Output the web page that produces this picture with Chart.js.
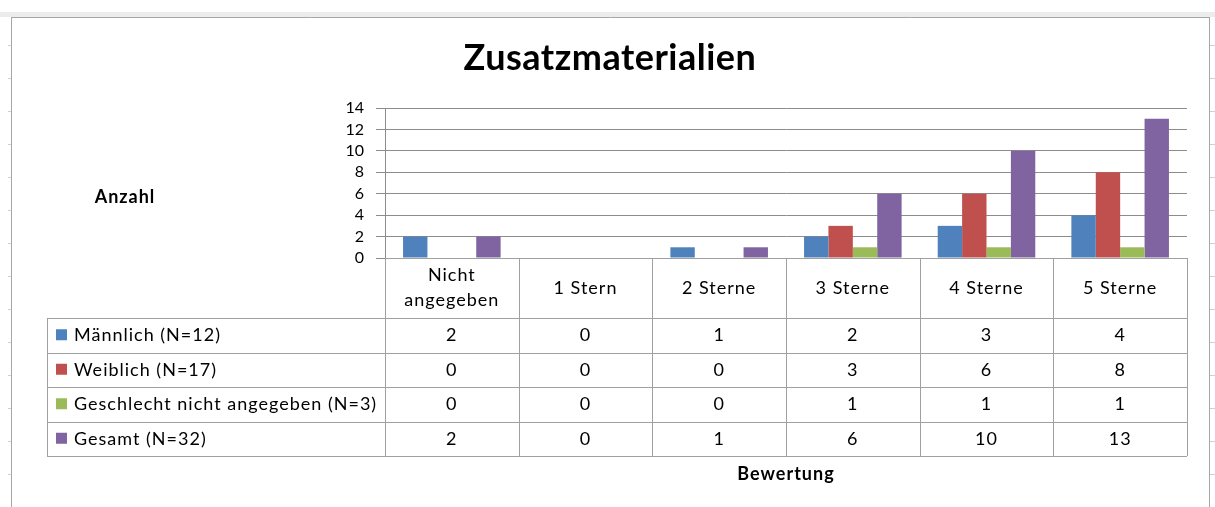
<!DOCTYPE html>
<html>
<head>
<meta charset="utf-8">
<script src="https://cdn.jsdelivr.net/npm/chart.js@4"></script>
<style>
  html, body { margin: 0; padding: 0; background: #fff; }
  #wrap { position: absolute; left: 0; top: 0; width: 1215px; height: 507px; }
</style>
</head>
<body>
<div id="wrap"><canvas id="chart" width="1215" height="507"></canvas></div>
<script>
// chart data
const categories = [['Nicht', 'angegeben'], '1 Stern', '2 Sterne', '3 Sterne', '4 Sterne', '5 Sterne'];
const seriesNames = ['Männlich (N=12)', 'Weiblich (N=17)', 'Geschlecht nicht angegeben (N=3)', 'Gesamt (N=32)'];
const maennlich = [2, 0, 1, 2, 3, 4];
const weiblich = [0, 0, 0, 3, 6, 8];
const keineAngabe = [0, 0, 0, 1, 1, 1];
const gesamt = [2, 0, 1, 6, 10, 13];
const yTicks = [0, 2, 4, 6, 8, 10, 12, 14];
const colors = ['#4F81BD', '#C0504D', '#9BBB59', '#8064A2'];

const FONT = 'Lato, "Open Sans", sans-serif';

// draws title, the data table under the plot, axis titles and frame
const tablePlugin = {
    id: 'dataTable',
    beforeDraw(chart) {
        const ctx = chart.ctx;
        ctx.save();
        // worksheet frame
        ctx.fillStyle = '#ececec';
        ctx.fillRect(0, 12, 1215, 5);
        ctx.strokeStyle = '#a6a6a6';
        ctx.lineWidth = 1;
        ctx.beginPath();
        ctx.moveTo(11.5, 17); ctx.lineTo(11.5, 507);
        ctx.moveTo(1209.5, 17); ctx.lineTo(1209.5, 507);
        ctx.moveTo(11, 17.5); ctx.lineTo(1210, 17.5);
        ctx.stroke();
        ctx.strokeStyle = '#d0d0d0';
        ctx.beginPath();
        for (let y = 45; y < 507; y += 33) {
            ctx.moveTo(8, y + 0.5); ctx.lineTo(11, y + 0.5);
            ctx.moveTo(1210, y + 0.5); ctx.lineTo(1215, y + 0.5);
        }
        ctx.stroke();

        // chart title
        ctx.fillStyle = '#000';
        ctx.font = 'bold 36px ' + FONT;
        ctx.letterSpacing = '0.5px';
        ctx.textAlign = 'center';
        ctx.textBaseline = 'alphabetic';
        ctx.fillText('Zusatzmaterialien', 610, 70);
        ctx.restore();
    },
    afterDraw(chart) {
        const {ctx, chartArea, scales: {x}} = chart;
        const colW = x.width / categories.length;
        const top = chartArea.bottom;
        const headH = 60;
        const rowH = 34.5;
        const tableLeft = 47;
        const rows = [maennlich, weiblich, keineAngabe, gesamt];
        const bottom = top + headH + rowH * rows.length;

        ctx.save();
        ctx.strokeStyle = '#a0a0a0';
        ctx.lineWidth = 1;
        ctx.beginPath();
        // vertical lines of columns
        for (let i = 0; i <= categories.length; i++) {
            const px = Math.round(chartArea.left + i * colW) + 0.5;
            ctx.moveTo(px, top);
            ctx.lineTo(px, bottom);
        }
        ctx.moveTo(tableLeft + 0.5, top + headH);
        ctx.lineTo(tableLeft + 0.5, bottom);
        // horizontal lines
        ctx.moveTo(chartArea.left, Math.round(top) + 0.5);
        ctx.lineTo(chartArea.right, Math.round(top) + 0.5);
        for (let r = 0; r <= rows.length; r++) {
            const py = Math.round(top + headH + r * rowH) + 0.5;
            ctx.moveTo(tableLeft, py);
            ctx.lineTo(chartArea.right, py);
        }
        ctx.stroke();

        ctx.fillStyle = '#000';
        ctx.font = '18px ' + FONT;
        ctx.letterSpacing = '1px';
        ctx.textAlign = 'center';
        ctx.textBaseline = 'middle';
        // header labels
        categories.forEach((c, i) => {
            const cx = x.getPixelForValue(i);
            const lines = Array.isArray(c) ? c : [c];
            lines.forEach((l, j) => {
                const cy = top + headH / 2 + (j - (lines.length - 1) / 2) * 25;
                ctx.fillText(l, cx, cy);
            });
        });
        // rows
        rows.forEach((vals, r) => {
            const cy = top + headH + r * rowH + rowH / 2;
            ctx.textAlign = 'center';
            vals.forEach((v, i) => {
                ctx.fillText(String(v), x.getPixelForValue(i), cy);
            });
            ctx.fillStyle = colors[r];
            ctx.fillRect(tableLeft + 9, cy - 6, 11, 11);
            ctx.fillStyle = '#000';
            ctx.textAlign = 'left';
            ctx.fillText(seriesNames[r], tableLeft + 27, cy);
        });

        // axis titles
        ctx.font = 'bold 18px ' + FONT;
        ctx.textAlign = 'center';
        ctx.fillText('Anzahl', 125, 197);
        ctx.fillText('Bewertung', (chartArea.left + chartArea.right) / 2, 474);
        ctx.restore();
    }
};

new Chart(document.getElementById('chart'), {
    type: 'bar',
    data: {
        labels: categories,
        datasets: [{
            label: seriesNames[0],
            data: maennlich,
            backgroundColor: colors[0]
        }, {
            label: seriesNames[1],
            data: weiblich,
            backgroundColor: colors[1]
        }, {
            label: seriesNames[2],
            data: keineAngabe,
            backgroundColor: colors[2]
        }, {
            label: seriesNames[3],
            data: gesamt,
            backgroundColor: colors[3]
        }]
    },
    options: {
        responsive: false,
        animation: false,
        datasets: {
            bar: { categoryPercentage: 0.73, barPercentage: 1.0 }
        },
        layout: {
            padding: { left: 300, right: 28, top: 108, bottom: 249 }
        },
        scales: {
            x: {
                display: false
            },
            y: {
                min: 0,
                max: 14,
                afterFit: (scale) => { scale.width = 85; },
                afterBuildTicks: (scale) => {
                    scale.ticks = yTicks.map(v => ({ value: v }));
                },
                border: { display: true, color: '#8c8c8c', width: 1 },
                grid: {
                    color: '#8c8c8c',
                    tickLength: 9,
                    drawTicks: true
                },
                ticks: {
                    autoSkip: false,
                    padding: 12,
                    color: '#000',
                    font: { family: FONT, size: 16 }
                }
            }
        },
        plugins: {
            legend: { display: false },
            tooltip: { enabled: false },
            title: { display: false }
        }
    },
    plugins: [tablePlugin]
});
</script>
</body>
</html>
